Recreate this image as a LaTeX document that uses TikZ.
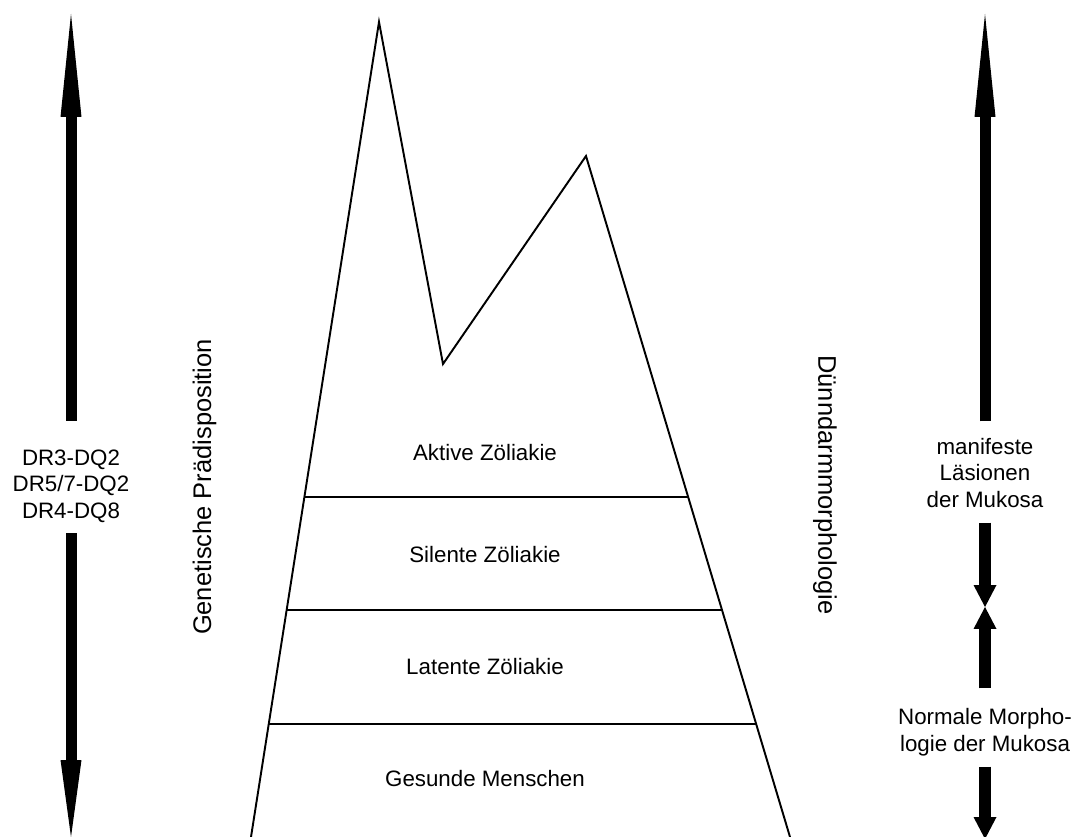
\documentclass[tikz,border=0pt]{standalone}
\usepackage{fontspec}
\setmainfont{Liberation Sans}
\usetikzlibrary{arrows.meta}

\begin{document}
\begin{tikzpicture}[
        x=0.02cm, y=-0.02cm,
        every node/.style={font=\fontsize{12.7}{15.1}\selectfont, align=center, inner sep=0pt, outer sep=0pt},
        vlabel/.style={font=\fontsize{14.5}{17}\selectfont},
        outline/.style={line width=1.1pt, line join=miter},
        longarrow/.style={line width=0.22cm, -{Triangle[length=#1, width=0.42cm, line width=0pt]}},
        shortarrow/.style={line width=0.23cm, -{Triangle[length=0.44cm, width=0.46cm, line width=0pt]}}
        ]
        \useasboundingbox (0,0) rectangle (1081,837);

        % The mountain
        \coordinate (BL) at (251,837);
        \coordinate (P1) at (379,22);
        \coordinate (V) at (443,364);
        \coordinate (P2) at (586,156);
        \coordinate (BR) at (790,837);
        \draw[outline] (BL) -- (P1) -- (V) -- (P2) -- (BR);

        % Layer borders
        \draw[outline] (304.4,497) -- (688.2,497);
        \draw[outline] (286.7,610) -- (722.0,610);
        \draw[outline] (268.8,724) -- (756.2,724);

        % Layers
        \node (aktiv) at (485,453) {Aktive Zöliakie};
        \node (silent) at (485,555) {Silente Zöliakie};
        \node (latent) at (485,667) {Latente Zöliakie};
        \node (gesund) at (485,779) {Gesunde Menschen};

        % Axis titles
        \node[vlabel, rotate=90] (genetik) at (204.5,487) {Genetische Prädisposition};
        \node[vlabel, rotate=-90] (morph) at (825,485) {Dünndarmmorphologie};

        % Left scale (HLA types)
        \node (hla) at (71,486) {DR3-DQ2\\DR5/7-DQ2\\DR4-DQ8};
        \coordinate (hlatop) at (71,14);
        \coordinate (hlabot) at (71,837);
        \draw[longarrow=2.06cm, shorten <=0.58cm] (hla.north) -- (hlatop);
        \draw[longarrow=1.54cm, shorten <=0.22cm] (hla.south) -- (hlabot);

        % Right scale (mucosa)
        \node (lesion) at (985,473) {manifeste\\Läsionen\\der Mukosa};
        \node (normal) at (985,732) {Normale Morpho-\\logie der Mukosa};
        \coordinate (lesiontop) at (985,14);
        \coordinate (meet) at (985,607);
        \coordinate (normalbot) at (985,839);
        \draw[longarrow=2.06cm, shorten <=0.34cm] (lesion.north) -- (lesiontop);
        \draw[shortarrow, shorten <=0.30cm] (lesion.south) -- (meet);
        \draw[shortarrow, shorten <=0.40cm] (normal.north) -- (meet);
        \draw[shortarrow, shorten <=0.22cm] (normal.south) -- (normalbot);

    \end{tikzpicture}
\end{document}
